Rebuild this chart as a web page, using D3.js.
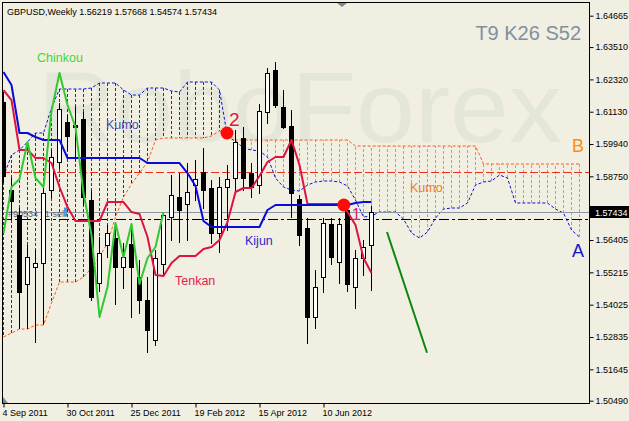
<!DOCTYPE html>
<html><head><meta charset="utf-8">
<script src="https://cdn.jsdelivr.net/npm/d3@7"></script>
<style>
html,body{margin:0;padding:0;background:#F1EFE2;}
svg{display:block;}
text{font-family:"Liberation Sans",Arial,sans-serif;}
</style>
</head><body>
<svg id="chart" width="629" height="421"></svg>
<script>
// ---------- DATA (weekly GBPUSD, Ichimoku 9/26/52) ----------
const openP = [1.61487,1.58247,1.57327,1.54786,1.55412,1.55559,1.58247,1.59278,1.60751,1.60641,
1.60861,1.57879,1.54823,1.56222,1.56480,1.55412,1.56259,1.55044,1.54197,1.52724,
1.55523,1.57253,1.57990,1.57732,1.58431,1.58910,1.58321,1.56664,1.58358,1.58689,
1.60162,1.58873,1.58431,1.61119,1.62666,1.61303,1.60604,1.57916,1.56848,1.53571,
1.55044,1.56995,1.55596,1.57511,1.54676,1.55743,1.56219];
const highP = [1.61856,1.58689,1.57584,1.56222,1.56038,1.58321,1.59720,1.61451,1.61009,1.61303,
1.61119,1.58247,1.56517,1.56959,1.56885,1.56296,1.56885,1.55670,1.55044,1.56038,
1.57437,1.58800,1.58873,1.59241,1.59352,1.59794,1.58615,1.58726,1.59168,1.60456,
1.60567,1.59241,1.61414,1.62739,1.62960,1.61929,1.61193,1.58063,1.57216,1.55302,
1.57216,1.57216,1.57216,1.57695,1.56038,1.56406,1.57668];
const lowP = [1.58542,1.57216,1.53166,1.53166,1.52651,1.53350,1.57990,1.59057,1.59720,1.59352,
1.57695,1.54197,1.54528,1.55780,1.54050,1.54639,1.53571,1.53718,1.52282,1.52540,
1.55081,1.56406,1.56333,1.56406,1.57879,1.57584,1.56296,1.55964,1.56774,1.58137,
1.58247,1.57990,1.58137,1.60714,1.61303,1.60530,1.57253,1.56222,1.52614,1.53166,
1.54492,1.55523,1.54823,1.54528,1.53902,1.55118,1.54574];
const closeP = [1.58763,1.57842,1.54492,1.55780,1.55559,1.58137,1.59462,1.61230,1.60236,1.60567,
1.57990,1.54308,1.55928,1.56664,1.55412,1.55780,1.55412,1.54197,1.53092,1.55743,
1.57327,1.58063,1.57511,1.58174,1.58652,1.58247,1.56664,1.58358,1.58652,1.60015,
1.58689,1.58358,1.61156,1.62555,1.61377,1.60567,1.58137,1.56590,1.53571,1.54676,
1.57032,1.55780,1.56995,1.54786,1.55743,1.56149,1.57434];

const tenkan = [1.61929,1.61561,1.59720,1.59720,1.59425,1.59425,1.59241,1.58358,1.57621,1.57106,
1.57106,1.57106,1.57106,1.57805,1.57805,1.57805,1.57437,1.57364,1.56517,1.55118,
1.55081,1.55559,1.55817,1.55817,1.55817,1.56075,1.56149,1.56406,1.57069,1.58174,
1.58321,1.58321,1.58763,1.59278,1.59462,1.59462,1.60088,1.59168,1.57732,1.57732,
1.57732,1.57732,1.57732,1.57437,1.56959,1.55743,1.55191];
const kijun = [1.62592,1.62113,1.60346,1.60346,1.60199,1.60088,1.60088,1.60088,1.59425,1.59425,
1.59425,1.59425,1.59425,1.59425,1.59425,1.59425,1.59425,1.59425,1.59241,1.59241,
1.59241,1.59241,1.59241,1.58873,1.58395,1.57106,1.56885,1.56885,1.56885,1.56885,
1.56885,1.56885,1.56885,1.57511,1.57695,1.57695,1.57695,1.57695,1.57695,1.57695,
1.57695,1.57695,1.57695,1.57695,1.57769,1.57805,1.57805];
// Chinkou = close plotted 26 weeks back (first 21 bars)
const chinkou = [1.56664,1.58358,1.58652,1.60015,1.58689,1.58358,1.61156,1.62555,1.61377,1.60567,
1.58137,1.56590,1.53571,1.54676,1.57032,1.55780,1.56995,1.54786,1.55743,1.56149,1.57434];
const spanA = [1.58726,1.59536,1.59720,1.60015,1.60346,1.60346,1.61266,1.61966,1.61966,1.61966,
1.61966,1.62003,1.62187,1.62187,1.62187,1.61929,1.61745,1.61745,1.62003,1.62003,
1.62003,1.61892,1.61856,1.62224,1.62224,1.62224,1.62224,1.61929,1.60199,1.60051,
1.59794,1.59720,1.59683,1.59462,1.58689,1.58358,1.58247,1.58210,1.58431,1.58542,
1.58579,1.58579,1.58542,1.58395,1.57879,1.57253,1.57290,1.57437,1.57437,1.57437,
1.57179,1.56664,1.56480,1.56701,1.57216,1.57548,1.57584,1.57584,1.57769,1.58431,
1.58542,1.58579,1.58800,1.58689,1.57769,1.57769,1.57769,1.57769,1.57769,1.57548,
1.57400,1.56774,1.56517];
const spanB = [1.52835,1.52982,1.53129,1.53129,1.53277,1.53277,1.54087,1.54860,1.54860,1.54860,
1.55044,1.55375,1.55780,1.56296,1.57253,1.57990,1.58468,1.58873,1.59278,1.60088,
1.60162,1.60162,1.60162,1.60162,1.60162,1.60162,1.60236,1.60420,1.60383,1.60088,
1.60088,1.60088,1.60088,1.60088,1.60088,1.60088,1.60088,1.60088,1.60088,1.60088,
1.60088,1.60088,1.60088,1.60088,1.59867,1.59867,1.59867,1.59867,1.59867,1.59867,
1.59867,1.59867,1.59867,1.59867,1.59867,1.59867,1.59867,1.59867,1.59867,1.59867,
1.59205,1.59205,1.59205,1.59205,1.59205,1.59205,1.59205,1.59205,1.59205,1.59205,
1.59205,1.59205,1.59205];

const priceTicks = [1.64665,1.63510,1.62320,1.61130,1.59940,1.58750,1.57560,1.56405,1.55215,1.54025,1.52835,1.51645,1.50490];
const dateTickIdx = [0,8,16,24,32,40];
const dateTickLabels = ["4 Sep 2011","30 Oct 2011","25 Dec 2011","19 Feb 2012","15 Apr 2012","10 Jun 2012"];

const bidPrice = 1.57434;
const orderPrice = 1.57168;
const stopPrice = 1.58921;
const trendIdx = [48, 53];
const trendPrice = [1.56701, 1.52257];
const markerIdx = [28, 42.6];
const markerPrice = [1.60346, 1.57695];
const markerLabels = ["2", "1"];

// ---------- LAYOUT ----------
const W = 629, H = 421;
const L = 2, T = 2, R = 589, B = 403;
const svg = d3.select("#chart");
const x = d3.scaleLinear().domain([0, 72]).range([3, 579]);
const y = d3.scaleLinear().domain([1.64665, 1.50490]).range([15.7, 400.7]);
const px = i => Math.round(x(i)) + 0.5;
const py = v => Math.round(y(v)) + 0.5;

svg.append("rect").attr("width", W).attr("height", H).attr("fill", "#F1EFE2");

// watermark
svg.append("text").attr("x", 38).attr("y", 142).attr("font-size", 100)
  .attr("textLength", 524).attr("lengthAdjust", "spacingAndGlyphs")
  .attr("fill", "#E4E6DA").text("RoboForex");

svg.append("defs").append("clipPath").attr("id", "plot")
  .append("rect").attr("x", L).attr("y", T).attr("width", R - L).attr("height", B - T);
const g = svg.append("g").attr("clip-path", "url(#plot)");

// Kumo hatching
g.append("g").selectAll("line").data(spanA).join("line")
  .attr("x1", (d, i) => px(i)).attr("x2", (d, i) => px(i))
  .attr("y1", (d, i) => y(d)).attr("y2", (d, i) => y(spanB[i]))
  .attr("stroke", (d, i) => d >= spanB[i] ? "#1A2ACC" : "#F28A66")
  .attr("stroke-width", 1).attr("stroke-dasharray", "3,2");

const lineGen = arr => d3.line().x((d, i) => px(i)).y(d => y(d))(arr);
g.append("path").attr("d", lineGen(spanB)).attr("fill", "none")
  .attr("stroke", "#FF5A1E").attr("stroke-width", 1).attr("stroke-dasharray", "3,2");
g.append("path").attr("d", lineGen(spanA)).attr("fill", "none")
  .attr("stroke", "#0A14DD").attr("stroke-width", 1).attr("stroke-dasharray", "3,2");

// horizontal levels
g.append("line").attr("x1", L).attr("x2", R).attr("y1", py(stopPrice)).attr("y2", py(stopPrice))
  .attr("stroke", "#E8301C").attr("stroke-dasharray", "8,3");
g.append("line").attr("x1", L).attr("x2", R).attr("y1", py(bidPrice)).attr("y2", py(bidPrice))
  .attr("stroke", "#8A96A3");
g.append("line").attr("x1", L).attr("x2", R).attr("y1", py(orderPrice)).attr("y2", py(orderPrice))
  .attr("stroke", "#000").attr("stroke-dasharray", "10,3,3,3");
g.append("text").attr("x", 8).attr("y", py(orderPrice) - 3).attr("font-size", 9)
  .attr("fill", "#5A6470").text("#90534 11 sell");
g.append("rect").attr("x", 64).attr("y", py(orderPrice) - 12).attr("width", 3).attr("height", 9)
  .attr("fill", "#4A9AD8");

// candles
const candles = g.append("g");
openP.forEach((o, i) => {
  const c = closeP[i];
  const cx = px(i);
  candles.append("line").attr("x1", cx).attr("x2", cx)
    .attr("y1", Math.round(y(highP[i]))).attr("y2", Math.round(y(lowP[i])) + 1)
    .attr("stroke", "#000").attr("stroke-width", 1);
  const top = Math.round(y(Math.max(o, c))), bot = Math.round(y(Math.min(o, c)));
  candles.append("rect").attr("x", cx - 2).attr("y", top + 0.5)
    .attr("width", 4).attr("height", Math.max(bot - top, 1))
    .attr("fill", c >= o ? "#FFFFFF" : "#000000")
    .attr("stroke", "#000").attr("stroke-width", 1);
});

// Ichimoku lines
g.append("path").attr("d", lineGen(tenkan)).attr("fill", "none")
  .attr("stroke", "#DC1440").attr("stroke-width", 2).attr("stroke-linejoin", "round");
g.append("path").attr("d", lineGen(kijun)).attr("fill", "none")
  .attr("stroke", "#0A0ADC").attr("stroke-width", 2).attr("stroke-linejoin", "round");
g.append("path").attr("d", lineGen(chinkou)).attr("fill", "none")
  .attr("stroke", "#32C832").attr("stroke-width", 2).attr("stroke-linejoin", "round");

// forecast trend line
g.append("line").attr("x1", x(trendIdx[0])).attr("y1", y(trendPrice[0]))
  .attr("x2", x(trendIdx[1])).attr("y2", y(trendPrice[1]))
  .attr("stroke", "#0A8A0A").attr("stroke-width", 2);

// signal markers
markerIdx.forEach((m, k) => {
  g.append("circle").attr("cx", x(m)).attr("cy", y(markerPrice[k])).attr("r", 6.5).attr("fill", "#FF0A0A");
});
g.append("text").attr("x", x(markerIdx[0]) + 2).attr("y", 126).attr("font-size", 19)
  .attr("fill", "#DC1440").text(markerLabels[0]);
g.append("text").attr("x", x(markerIdx[1]) + 8).attr("y", 220).attr("font-size", 16)
  .attr("fill", "#D8207A").text(markerLabels[1]);

// annotations
const ann = [
  {t: "Chinkou", x: 37, y: 62, c: "#3CD83C", s: 12.5},
  {t: "Kumo", x: 106, y: 129, c: "#4A4EA8", s: 12.5},
  {t: "Kijun", x: 245, y: 245, c: "#2A2ACC", s: 12.5},
  {t: "Tenkan", x: 175, y: 285, c: "#E0204A", s: 12.5},
  {t: "Kumo", x: 410, y: 192, c: "#E8802A", s: 12.5},
  {t: "B", x: 572, y: 152, c: "#FF8C10", s: 18},
  {t: "A", x: 572, y: 257, c: "#1212CC", s: 18}
];
ann.forEach(a => svg.append("text").attr("x", a.x).attr("y", a.y).attr("font-size", a.s)
  .attr("fill", a.c).text(a.t));
svg.append("text").attr("x", 581).attr("y", 40).attr("font-size", 20).attr("text-anchor", "end")
  .attr("fill", "#8090A0").text("T9 K26 S52");

// frame
svg.append("rect").attr("x", L + 0.5).attr("y", T + 0.5).attr("width", R - L).attr("height", B - T)
  .attr("fill", "none").attr("stroke", "#000").attr("stroke-width", 1);

// axes
const yAxis = d3.axisRight(y).tickValues(priceTicks).tickSize(4).tickPadding(2)
  .tickFormat(d3.format(".5f"));
const ya = svg.append("g").attr("transform", `translate(${R + 0.5},0)`).call(yAxis);
ya.select(".domain").remove();
ya.selectAll("text").attr("font-size", 9).attr("font-family", "Liberation Sans, Arial").attr("fill", "#000");

const xAxis = d3.axisBottom(x).tickValues(dateTickIdx).tickSize(4)
  .tickFormat((d, i) => dateTickLabels[i]);
const xa = svg.append("g").attr("transform", `translate(0.5,${B + 0.5})`).call(xAxis);
xa.select(".domain").remove();
xa.selectAll("text").attr("font-size", 9).attr("font-family", "Liberation Sans, Arial")
  .attr("text-anchor", "start").attr("dx", -1.5).attr("dy", "0.6em").attr("fill", "#000");

// current price label
svg.append("rect").attr("x", 590).attr("y", Math.round(y(bidPrice)) - 6).attr("width", 39).attr("height", 12).attr("fill", "#000");
svg.append("text").attr("x", 595).attr("y", Math.round(y(bidPrice)) + 3.5).attr("font-size", 9)
  .attr("fill", "#fff").text(bidPrice.toFixed(5));

// small markers
svg.append("path").attr("d", "M337,3 L347,3 L342,7 Z").attr("fill", "#7A8A99");
svg.append("path").attr("d", "M3,397 L3,403 L8,403 Z").attr("fill", "#7A8A99");

// title
svg.append("text").attr("x", 7).attr("y", 14.5).attr("font-size", 9).attr("fill", "#000")
  .text("GBPUSD,Weekly  " + [openP[46], highP[46], lowP[46], closeP[46]].map(v => v.toFixed(5)).join(" "));
</script>
</body></html>
